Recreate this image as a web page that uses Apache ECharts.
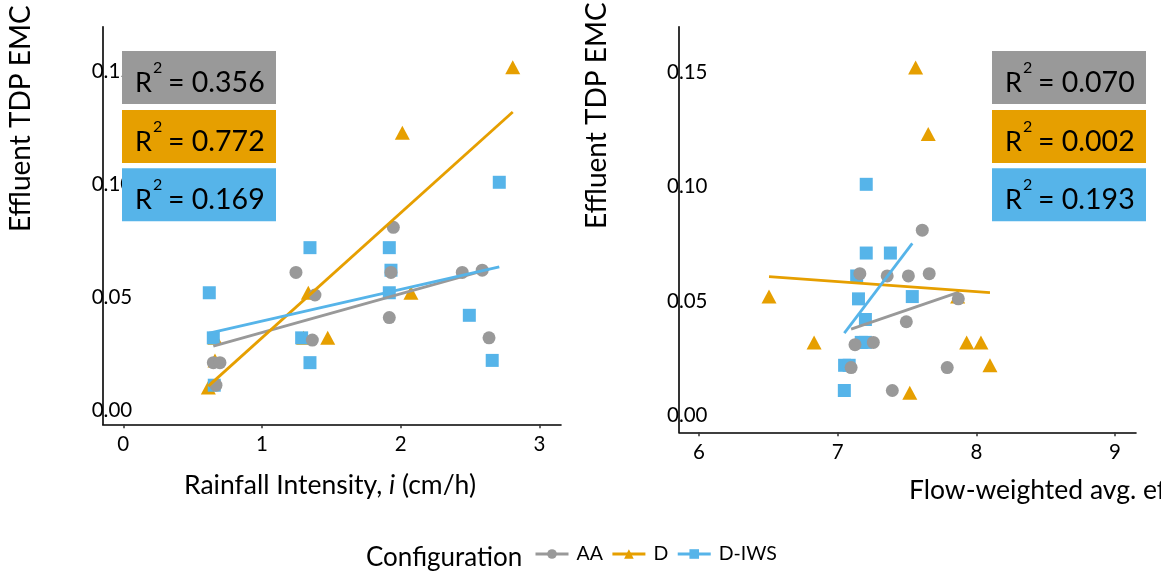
<!DOCTYPE html>
<html>
<head>
<meta charset="utf-8">
<script src="https://cdn.jsdelivr.net/npm/echarts@6/dist/echarts.min.js"></script>
<style>
html,body{margin:0;padding:0;background:#fff}
#chart{width:1161px;height:571px}
</style>
</head>
<body>
<div id="chart"></div>
<script>
// Configurations and their look
const configs = ['AA', 'D', 'D-IWS'];
const colors = { 'AA': '#999999', 'D': '#E69F00', 'D-IWS': '#56B4E9' };
const symbols = { 'AA': 'circle', 'D': 'triangle', 'D-IWS': 'rect' };

// Panel 1: rainfall intensity (cm/h) vs effluent TDP EMC
const rainAA = [[0.649,0.021],[0.697,0.021],[0.668,0.011],[1.245,0.061],[1.382,0.051],[1.363,0.031],
                [1.947,0.081],[1.930,0.061],[1.918,0.041],[2.444,0.061],[2.588,0.062],[2.637,0.032]];
const rainD = [[0.613,0.010],[0.661,0.022],[0.661,0.032],[1.300,0.032],[1.334,0.052],[1.474,0.032],
               [2.012,0.123],[2.074,0.052],[2.808,0.152]];
const rainDIWS = [[0.620,0.052],[0.649,0.032],[0.656,0.011],[1.346,0.072],[1.286,0.032],[1.346,0.021],
                  [1.918,0.072],[1.930,0.062],[1.918,0.052],[2.495,0.042],[2.660,0.022],[2.711,0.101]];
// Linear fits (end points over each data range)
const rainFitAA = [[0.649,0.0283],[2.637,0.0625]];
const rainFitD = [[0.613,0.0106],[2.808,0.1322]];
const rainFitDIWS = [[0.620,0.0341],[2.711,0.0635]];
const rainR2 = ['0.356', '0.772', '0.169'];
const rainTicks = [0, 1, 2, 3];

// Panel 2: flow-weighted average effluent pH vs effluent TDP EMC
const phAA = [[7.610,0.081],[7.160,0.062],[7.357,0.061],[7.510,0.061],[7.660,0.062],[7.495,0.041],
              [7.125,0.031],[7.257,0.032],[7.097,0.021],[7.394,0.011],[7.870,0.051],[7.790,0.021]];
const phD = [[7.562,0.152],[7.653,0.123],[7.930,0.032],[8.033,0.032],[8.098,0.022],[7.520,0.010],
             [7.865,0.052],[6.505,0.052],[6.830,0.032]];
const phDIWS = [[7.206,0.101],[7.206,0.071],[7.380,0.071],[7.137,0.061],[7.150,0.051],[7.538,0.052],
                [7.200,0.042],[7.170,0.032],[7.200,0.032],[7.050,0.022],[7.083,0.022],[7.048,0.011]];
const phFitAA = [[7.097,0.0378],[7.870,0.0538]];
const phFitD = [[6.505,0.0607],[8.098,0.0537]];
const phFitDIWS = [[7.048,0.0360],[7.538,0.0752]];
const phR2 = ['0.070', '0.002', '0.193'];
const phTicks = [6, 7, 8, 9];

const emcTicks = [0, 0.05, 0.10, 0.15];

const FONT = 'Lato';
const TITLE_SIZE = 26.5;
const Y_TITLE_SIZE = 28;

const chart = echarts.init(document.getElementById('chart'), null, { renderer: 'canvas' });

function xAxisFor(gi, min, max, ticks) {
  return {
    type: 'value', gridIndex: gi, min: min, max: max,
    splitLine: { show: false },
    axisLine: { show: true, onZero: false, lineStyle: { color: '#000', width: 1.6 } },
    axisTick: { show: true, customValues: ticks, length: 4, lineStyle: { color: '#333', width: 1.5 } },
    axisLabel: { customValues: ticks, margin: 10, fontFamily: FONT, fontSize: 20.5, color: '#000' }
  };
}
function yAxisFor(gi, min, max, margin) {
  return {
    type: 'value', gridIndex: gi, min: min, max: max,
    splitLine: { show: false },
    axisLine: { show: true, onZero: false, lineStyle: { color: '#000', width: 1.6 } },
    axisTick: { show: false },
    axisLabel: {
      customValues: emcTicks, align: 'left', margin: margin,
      fontFamily: FONT, fontSize: 20.5, color: '#000',
      formatter: function (v) { return v.toFixed(2); }
    }
  };
}

const panels = [
  { gi: 0, pts: { 'AA': rainAA, 'D': rainD, 'D-IWS': rainDIWS }, fit: { 'AA': rainFitAA, 'D': rainFitD, 'D-IWS': rainFitDIWS } },
  { gi: 1, pts: { 'AA': phAA, 'D': phD, 'D-IWS': phDIWS }, fit: { 'AA': phFitAA, 'D': phFitD, 'D-IWS': phFitDIWS } }
];

const series = [];
// fitted lines first (they also provide the legend icons), drawn above the points
panels.forEach(function (p) {
  configs.forEach(function (c) {
    series.push({
      type: 'line', name: c, xAxisIndex: p.gi, yAxisIndex: p.gi,
      data: p.fit[c], showSymbol: false, symbol: symbols[c], symbolSize: 10,
      lineStyle: { color: colors[c], width: 2.8 }, itemStyle: { color: colors[c] },
      z: 4, silent: true
    });
  });
});
// points: D underneath, then D-IWS, then AA on top
['D', 'D-IWS', 'AA'].forEach(function (c) {
  panels.forEach(function (p) {
    series.push({
      type: 'scatter', name: c, xAxisIndex: p.gi, yAxisIndex: p.gi,
      data: p.pts[c], symbol: symbols[c],
      symbolSize: c === 'D' ? [15, 14] : 13,
      itemStyle: { color: colors[c], opacity: 1 }, z: 2, silent: true
    });
  });
});

// R² boxes
function r2Boxes(x0, vals) {
  const tops = [51, 110, 168.3];
  return vals.map(function (v, i) {
    return {
      type: 'group', x: x0, y: tops[i], z: 100,
      children: [
        { type: 'rect', shape: { x: 0, y: 0, width: 154, height: 53 }, style: { fill: colors[configs[i]] }, z: 100 },
        { type: 'text', x: 13, y: 32, z: 101, style: { text: 'R', fontFamily: FONT, fontSize: 27, fill: '#000', verticalAlign: 'middle', align: 'left' } },
        { type: 'text', x: 31, y: 17, z: 101, style: { text: '2', fontFamily: FONT, fontSize: 16, fill: '#000', verticalAlign: 'middle', align: 'left' } },
        { type: 'text', x: 46, y: 32, z: 101, style: { text: '= ' + v, fontFamily: FONT, fontSize: 28.5, fill: '#000', verticalAlign: 'middle', align: 'left' } }
      ]
    };
  });
}

const titles = [
  { type: 'text', x: 21, y: 232, rotation: Math.PI / 2, z: 50,
    style: { text: 'Effluent TDP EMC', fontFamily: FONT, fontSize: Y_TITLE_SIZE, fill: '#000', align: 'left', verticalAlign: 'middle' } },
  { type: 'text', x: 597, y: 229, rotation: Math.PI / 2, z: 50,
    style: { text: 'Effluent TDP EMC', fontFamily: FONT, fontSize: Y_TITLE_SIZE, fill: '#000', align: 'left', verticalAlign: 'middle' } },
  { type: 'text', x: 330, y: 485, z: 50,
    style: { text: '{n|Rainfall Intensity, }{it|i}{n| (cm/h)}', align: 'center', verticalAlign: 'middle',
      rich: { n: { fontFamily: FONT, fontSize: TITLE_SIZE, fill: '#000' }, it: { fontFamily: FONT, fontSize: TITLE_SIZE, fontStyle: 'italic', fill: '#000' } } } },
  { type: 'text', x: 909, y: 490.5, z: 50,
    style: { text: 'Flow-weighted avg. effluent pH', fontFamily: FONT, fontSize: TITLE_SIZE, fill: '#000', align: 'left', verticalAlign: 'middle' } },
  { type: 'text', x: 366, y: 558, z: 50,
    style: { text: 'Configuration', fontFamily: FONT, fontSize: 26, fill: '#000', align: 'left', verticalAlign: 'middle' } }
];

chart.setOption({
  animation: false,
  backgroundColor: '#fff',
  grid: [
    { left: 102.7, top: 26.7, width: 458.3, height: 397.6 },
    { left: 679, top: 26.7, width: 457, height: 405.6 }
  ],
  xAxis: [
    xAxisFor(0, -0.1485, 3.156, rainTicks),
    xAxisFor(1, 5.856, 9.151, phTicks)
  ],
  yAxis: [
    yAxisFor(0, -0.00634, 0.170, 11),
    yAxisFor(1, -0.00725, 0.1698, 12)
  ],
  legend: {
    data: configs, left: 534, top: 544, orient: 'horizontal', padding: 0,
    itemWidth: 33, itemHeight: 12, itemGap: 8,
    lineStyle: { width: 3 },
    textStyle: { fontFamily: FONT, fontSize: 19.5, color: '#000', padding: [0, 0, 0, 3] },
    selectedMode: false
  },
  graphic: { elements: titles.concat(r2Boxes(122, rainR2), r2Boxes(992, phR2)) },
  series: series
});
</script>
</body>
</html>
